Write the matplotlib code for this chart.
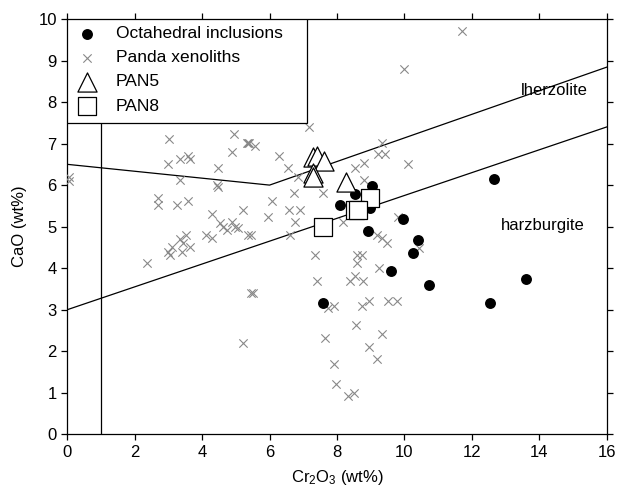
import matplotlib.pyplot as plt
from matplotlib.patches import Rectangle

plt.rcParams["font.family"] = ["Liberation Sans", "DejaVu Sans"]
plt.rcParams["mathtext.default"] = "regular"

# Octahedral inclusions
oct_cr = [8.09, 8.53, 9.03, 8.98, 9.97, 8.93, 10.41, 10.25, 9.60, 10.74, 7.58, 12.66, 13.61, 12.54]
oct_ca = [5.52, 5.78, 5.98, 5.44, 5.19, 4.90, 4.69, 4.36, 3.94, 3.59, 3.16, 6.14, 3.73, 3.15]

# Panda xenoliths
pan_cr = [
    0.05, 0.05, 2.36, 2.70, 2.70, 2.98, 3.00, 3.02, 3.05, 3.10, 3.25, 3.34, 3.34, 3.34,
    3.39, 3.44, 3.52, 3.59, 3.59, 3.64, 3.64, 4.11, 4.28, 4.28, 4.45, 4.48, 4.48, 4.53,
    4.61, 4.73, 4.88, 4.88, 4.95, 4.97, 5.07, 5.22, 5.22, 5.32, 5.37, 5.37, 5.40, 5.45,
    5.45, 5.50, 5.57, 5.96, 6.06, 6.29, 6.56, 6.59, 6.61, 6.73, 6.75, 6.83, 6.90, 7.18,
    7.35, 7.40, 7.58, 7.64, 7.74, 7.91, 7.91, 7.97, 8.19, 8.32, 8.39, 8.49, 8.53, 8.53,
    8.56, 8.58, 8.58, 8.73, 8.73, 8.78, 8.81, 8.81, 8.95, 8.95, 9.18, 9.20, 9.23, 9.26,
    9.33, 9.33, 9.34, 9.43, 9.48, 9.52, 9.77, 9.82, 10.12, 10.44, 10.0, 11.7,
]
pan_ca = [
    6.20, 6.10, 4.12, 5.68, 5.52, 6.51, 4.40, 7.10, 4.32, 4.52, 5.52, 6.62, 6.12, 4.70,
    4.40, 4.60, 4.80, 6.70, 5.62, 6.62, 4.52, 4.80, 5.30, 4.72, 6.00, 6.40, 5.95, 5.08,
    4.98, 4.92, 6.80, 5.12, 7.23, 5.00, 4.96, 5.40, 2.19, 7.01, 4.80, 7.02, 7.01, 4.80,
    3.40, 3.40, 6.93, 5.22, 5.62, 6.71, 6.40, 5.40, 4.80, 5.82, 5.10, 6.19, 5.40, 7.39,
    4.32, 3.69, 5.82, 2.31, 3.03, 3.09, 1.69, 1.21, 5.10, 0.93, 3.69, 1.00, 6.40, 3.81,
    2.63, 4.32, 4.12, 4.32, 3.09, 3.69, 6.53, 6.12, 3.22, 2.11, 4.80, 1.81, 6.74, 4.00,
    7.01, 4.72, 2.41, 6.74, 4.61, 3.22, 3.22, 5.22, 6.51, 4.48, 8.80, 9.70,
]

# PAN5 and PAN8
pan5_cr = [7.30, 7.42, 7.62, 7.30, 7.30, 8.26]
pan5_ca = [6.67, 6.70, 6.59, 6.30, 6.19, 6.07]
pan8_cr = [7.58, 8.98, 8.52, 8.62]
pan8_ca = [5.00, 5.70, 5.40, 5.40]

# field boundaries
upper_x = [0, 6, 16]
upper_y = [6.5, 6.0, 8.84]
lower_x = [0, 16]
lower_y = [3.0, 7.4]
cr_limit = 1.0
ca_box = 7.5
box_right = 7.1


def main() -> None:
    fig = plt.figure(figsize=(6.19, 4.97), dpi=100)
    ax = fig.add_axes([0.1087, 0.1262, 0.8714, 0.8356])

    ax.plot(upper_x, upper_y, color="black", linewidth=0.9)
    ax.plot(lower_x, lower_y, color="black", linewidth=0.9)
    ax.plot([cr_limit, cr_limit], [0, ca_box], color="black", linewidth=0.9)

    ax.scatter(pan_cr, pan_ca, marker="x", s=36, color="#888888", linewidths=0.8,
               label="Panda xenoliths", zorder=3)
    ax.scatter(oct_cr, oct_ca, marker="o", s=62, color="black", linewidths=0,
               label="Octahedral inclusions", zorder=4)
    ax.scatter(pan5_cr, pan5_ca, marker="^", s=190, facecolor="white", edgecolor="black",
               linewidths=0.9, label="PAN5", zorder=5)
    ax.scatter(pan8_cr, pan8_ca, marker="s", s=150, facecolor="white", edgecolor="black",
               linewidths=0.9, label="PAN8", zorder=5)

    ax.text(14.45, 8.29, "lherzolite", fontsize=12, ha="center", va="center")
    ax.text(14.1, 5.02, "harzburgite", fontsize=12, ha="center", va="center")

    ax.add_patch(Rectangle((0, ca_box), box_right, 10 - ca_box, facecolor="white",
                           edgecolor="black", linewidth=0.9, zorder=6))
    handles, labels = ax.get_legend_handles_labels()
    order = [1, 0, 2, 3]
    leg = ax.legend([handles[i] for i in order], [labels[i] for i in order],
                    loc="upper left", bbox_to_anchor=(0.0, 1.0), frameon=False,
                    fontsize=12.5, handletextpad=0.9, labelspacing=0.52,
                    borderaxespad=0.2, handlelength=1.5, borderpad=0.2)
    leg.set_zorder(7)

    ax.set_xlim(0, 16)
    ax.set_ylim(0, 10)
    ax.set_xticks(range(0, 17, 2))
    ax.set_yticks(range(0, 11))
    ax.set_xlabel("Cr$_2$O$_3$ (wt%)", fontsize=12, labelpad=6)
    ax.set_ylabel("CaO (wt%)", fontsize=12, labelpad=8)
    ax.tick_params(direction="out", length=4, width=0.9, labelsize=12,
                   top=True, right=True)
    for spine in ax.spines.values():
        spine.set_linewidth(0.9)

    fig.savefig("out.png", dpi=100)
    plt.close(fig)


if __name__ == "__main__":
    main()
